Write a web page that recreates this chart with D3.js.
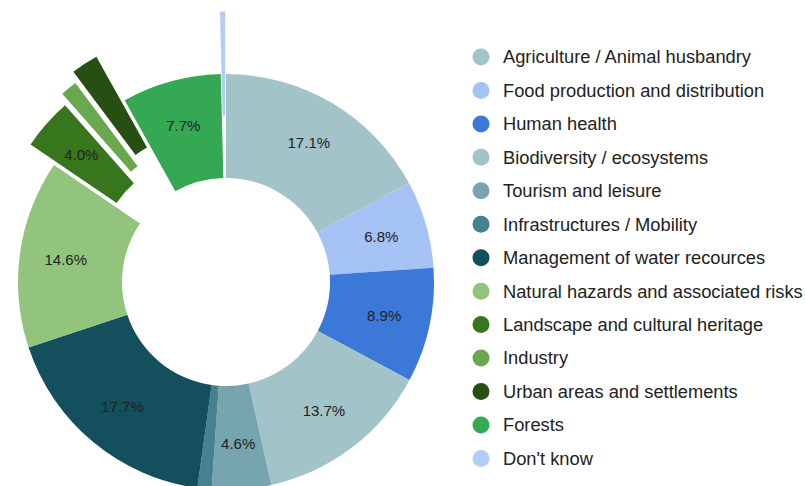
<!DOCTYPE html>
<html>
<head>
<meta charset="utf-8">
<script src="https://cdn.jsdelivr.net/npm/d3@7"></script>
<style>
  html, body { margin: 0; padding: 0; background: #fff; }
  svg { display: block; }
</style>
</head>
<body>
<svg id="chart" width="805" height="486"></svg>
<script>
const categories = [
  "Agriculture / Animal husbandry",
  "Food production and distribution",
  "Human health",
  "Biodiversity / ecosystems",
  "Tourism and leisure",
  "Infrastructures / Mobility",
  "Management of water recources",
  "Natural hazards and associated risks",
  "Landscape and cultural heritage",
  "Industry",
  "Urban areas and settlements",
  "Forests",
  "Don't know"
];
const values = [17.1, 6.8, 8.9, 13.7, 4.6, 1.1, 17.7, 14.6, 4.0, 1.3, 2.1, 7.7, 0.4];
const colors = ["#a2c4c9", "#a4c2f4", "#3c78d8", "#a2c4c9", "#76a5af", "#45818e",
                "#134f5c", "#93c47d", "#38761d", "#6aa84f", "#274e13", "#34a853", "#b4cdf7"];
const offsets = [0, 0, 0, 0, 0, 0, 0, 0, 0.15, 0.2, 0.25, 0, 0.3];

const svg = d3.select("#chart");
const cx = 226, cy = 282, R = 208, r0 = 104;
const labelR = (2 / 3) * (R ** 3 - r0 ** 3) / (R ** 2 - r0 ** 2); // annulus centroid radius
const total = d3.sum(values);
const data = categories.map((c, i) => ({ name: c, value: values[i], color: colors[i], offset: offsets[i] }));

const pie = d3.pie().sort(null).value(d => d.value).startAngle(0).endAngle(2 * Math.PI);
const arc = d3.arc().innerRadius(r0).outerRadius(R);
const labelArc = d3.arc().innerRadius(labelR).outerRadius(labelR);
const arcs = pie(data);

const g = svg.append("g").attr("transform", `translate(${cx},${cy})`);

const slice = g.selectAll("g.slice").data(arcs).join("g")
  .attr("class", "slice")
  .attr("transform", d => {
    const a = (d.startAngle + d.endAngle) / 2;
    const o = d.data.offset * R;
    return `translate(${o * Math.sin(a)},${-o * Math.cos(a)})`;
  });

slice.append("path")
  .attr("d", arc)
  .attr("fill", d => d.data.color);

slice.filter(d => d.data.value / total * 100 >= 3)
  .append("text")
  .attr("transform", d => `translate(${labelArc.centroid(d)})`)
  .attr("text-anchor", "middle")
  .attr("dy", "0.35em")
  .attr("font-family", "'Liberation Sans', Arial, sans-serif")
  .attr("font-size", 15)
  .attr("fill", "#222")
  .text(d => (d.data.value / total * 100).toFixed(1) + "%");

// Legend
const legend = svg.append("g").attr("transform", "translate(481,57)");
const rowH = 33.45;
const item = legend.selectAll("g.item").data(data).join("g")
  .attr("class", "item")
  .attr("transform", (d, i) => `translate(0,${i * rowH})`);
item.append("circle").attr("r", 8.5).attr("fill", d => d.color);
item.append("text")
  .attr("x", 22)
  .attr("dy", "0.35em")
  .attr("font-family", "'Liberation Sans', Arial, sans-serif")
  .attr("font-size", 18.3)
  .attr("fill", "#222")
  .text(d => d.name);
</script>
</body>
</html>
